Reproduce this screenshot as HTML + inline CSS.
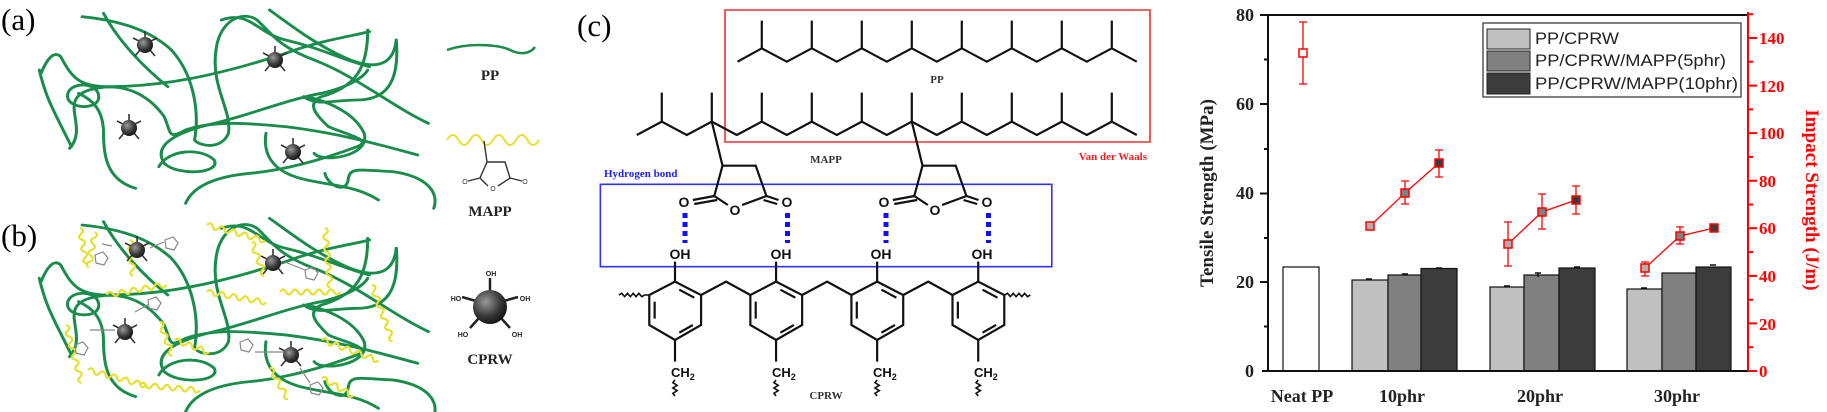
<!DOCTYPE html>
<html><head><meta charset="utf-8"><style>
html,body{margin:0;padding:0;background:#fff;}
svg{display:block;}
.ser{font-family:"Liberation Serif",serif;font-weight:bold;}
.san{font-family:"Liberation Sans",sans-serif;}
</style></head><body>
<svg width="1827" height="412" viewBox="0 0 1827 412" xmlns="http://www.w3.org/2000/svg">
<defs>
<radialGradient id="sph" cx="0.38" cy="0.35" r="0.7">
<stop offset="0" stop-color="#9a9a9a"/><stop offset="0.6" stop-color="#3a3a3a"/><stop offset="1" stop-color="#111"/>
</radialGradient>
<g id="part">
<g stroke="#333" stroke-width="1.6">
<line x1="0" y1="-7" x2="0" y2="-14"/><line x1="6" y1="-4" x2="12" y2="-7"/><line x1="-6" y1="-4" x2="-12" y2="-7"/>
<line x1="5" y1="5" x2="10" y2="11"/><line x1="-5" y1="5" x2="-10" y2="11"/></g>
<circle r="8" fill="url(#sph)"/>
</g>
<g id="gr">
<path d="M230,50 C330,60 420,90 480,150 C540,220 560,330 545,420 C560,440 620,450 640,400 C650,330 590,260 605,150 C615,60 680,30 720,60 C760,100 780,140 880,180 C1000,230 1100,320 1200,370"/>
<path d="M115,220 C130,180 150,150 170,170 C200,230 220,260 300,260 C450,260 600,230 800,160 C900,120 980,110 1035,95"/>
<path d="M190,295 C180,250 260,240 275,280 C290,330 200,330 190,295"/>
<path d="M195,445 C250,380 160,300 250,270 C350,240 420,290 460,350 C480,400 470,420 520,390 C600,360 700,370 800,380 C950,400 1050,430 1170,465"/>
<path d="M380,565 C300,540 290,470 290,400 C290,330 260,300 220,280"/>
<path d="M445,500 C470,450 560,440 600,480 C620,520 500,530 460,490 C430,440 480,400 600,370 C700,345 800,300 900,280 C980,260 1020,230 1030,210"/>
<path d="M520,610 C540,560 600,530 700,520 C800,510 900,480 1000,440 C1050,420 960,400 920,380 C880,340 860,310 900,290 C1000,260 1030,200 1030,90"/>
<path d="M755,30 C820,80 880,130 960,170 C1020,200 1100,220 1110,120"/>
<path d="M910,520 C920,560 970,580 975,540 C980,500 1000,510 1100,515 C1200,530 1230,580 1215,625"/>
<path d="M745,400 C735,470 770,520 860,540 C950,560 1000,560 1060,600"/>
<path d="M1110,120 C1120,250 1080,300 1000,300 C930,300 890,320 850,290"/>
<path d="M290,40 C330,120 400,200 470,260"/>
<path d="M620,60 C700,30 720,100 800,120 C900,145 960,180 1035,200"/>
<path d="M860,290 C900,300 990,330 1020,400 C1040,470 900,490 880,460"/>
<path d="M110,210 C130,300 150,330 200,440"/>
</g>
<path id="w60" d="M0,0 q3,-5 6,0 t6,0 t6,0 t6,0 t6,0 t6,0 t6,0 t6,0 t6,0 t6,0"/>
<path id="w36" d="M0,0 q3,-5 6,0 t6,0 t6,0 t6,0 t6,0 t6,0"/>
<g id="phen" fill="none" stroke="#111" stroke-width="2.2">
<path d="M322,845 L395,885 L395,975 L322,1020 L250,975 L250,885 Z" vector-effect="non-scaling-stroke"/>
<path d="M334,869 L376,893 M265,905 L265,956 M372,975 L334,998 M322,845 V785 M322,1020 V1085" vector-effect="non-scaling-stroke"/>
<path d="M322,1140 l-6,8 l12,8 l-12,8 l12,8 l-12,8 l6,8" vector-effect="non-scaling-stroke" stroke-width="1.6"/>
</g>
<g id="anh" fill="none" stroke="#111" stroke-width="2.2">
<path d="M425,365 L455,497 L548,497 L578,588 M455,497 L432,588 M432,588 L470,615 M510,615 L578,588 M432,588 L372,600 M440,600 L376,612 M578,588 L612,600 M570,600 L608,612" vector-effect="non-scaling-stroke"/>
</g>
</defs>

<!-- Panel a/b -->
<text x="1" y="30" font-family="Liberation Serif,serif" font-size="31">(a)</text>
<text x="1" y="246" font-family="Liberation Serif,serif" font-size="31">(b)</text>
<g transform="scale(0.357,0.3333)" fill="none" stroke="#1a8c4c" stroke-width="8.5" stroke-linecap="round">
<use href="#gr"/>
</g>
<g transform="scale(0.357,0.3333) translate(0,625)" fill="none" stroke="#1a8c4c" stroke-width="8.5" stroke-linecap="round">
<use href="#gr"/>
</g>
<use href="#part" x="145" y="45"/><use href="#part" x="275" y="60"/><use href="#part" x="129" y="128"/><use href="#part" x="293" y="152"/>
<!-- yellow -->
<g fill="none" stroke="#e8e030" stroke-width="2.2">
<use href="#w36" transform="translate(80,228) rotate(80)"/>
<use href="#w60" transform="translate(66,325) rotate(75)"/>
<use href="#w60" transform="translate(88,370) rotate(15)"/>
<use href="#w60" transform="translate(140,385) rotate(5)"/>
<use href="#w36" transform="translate(130,240) rotate(85)"/>
<use href="#w60" transform="translate(107,295) rotate(-10)"/>
<use href="#w36" transform="translate(160,322) rotate(70)"/>
<use href="#w36" transform="translate(175,340) rotate(20)"/>
<use href="#w60" transform="translate(207,225) rotate(15)"/>
<use href="#w60" transform="translate(207,292) rotate(10)"/>
<use href="#w36" transform="translate(252,242) rotate(70)"/>
<use href="#w60" transform="translate(325,228) rotate(85)"/>
<use href="#w60" transform="translate(280,292) rotate(0)"/>
<use href="#w60" transform="translate(372,285) rotate(70)"/>
<use href="#w60" transform="translate(322,340) rotate(20)"/>
<use href="#w36" transform="translate(270,368) rotate(60)"/>
<use href="#w36" transform="translate(322,378) rotate(30)"/>
<use href="#w36" transform="translate(95,232) rotate(100)"/>
</g>
<g fill="none" stroke="#888" stroke-width="1.2">
<path d="M95,255 l8,-3 l5,6 l-4,7 l-8,-2 z M102,244 l10,2"/>
<path d="M165,240 l8,-3 l5,6 l-4,7 l-8,-2 z M150,248 l14,-6"/>
<path d="M75,345 l8,-3 l5,6 l-4,7 l-8,-2 z M90,330 l25,0"/>
<path d="M148,300 l8,-3 l5,6 l-4,7 l-8,-2 z M135,312 l14,-8"/>
<path d="M305,270 l8,-3 l5,6 l-4,7 l-8,-2 z M285,262 l20,8"/>
<path d="M240,342 l8,-3 l5,6 l-4,7 l-8,-2 z M255,352 l30,0"/>
<path d="M310,385 l8,-3 l5,6 l-4,7 l-8,-2 z M300,368 l10,15"/>
</g>
<use href="#part" x="137" y="250"/><use href="#part" x="273" y="263"/><use href="#part" x="125" y="332"/><use href="#part" x="291" y="355"/>
<!-- legend a/b -->
<path d="M447,50 C470,42 500,45 510,50 S530,54 535,47" fill="none" stroke="#1a8c4c" stroke-width="2.5"/>
<text x="490" y="80" text-anchor="middle" class="ser" font-size="15" fill="#222">PP</text>
<path d="M447,140 q6,-10 11.5,0 t11.5,0 t11.5,0 t11.5,0 t11.5,0 t11.5,0 t11.5,0 t11.5,0" fill="none" stroke="#e8e030" stroke-width="2"/>
<g fill="none" stroke="#333" stroke-width="1.4">
<path d="M484,141 L487,162 L505,162 L510,178 M487,162 L480,178 L488,186 M498,186 L510,178 M480,178 L468,181 M510,178 L522,181"/>
</g>
<text x="465" y="184" font-size="7" class="san" fill="#333" text-anchor="middle">O</text>
<text x="525" y="184" font-size="7" class="san" fill="#333" text-anchor="middle">O</text>
<text x="493" y="191" font-size="7" class="san" fill="#333" text-anchor="middle">O</text>
<text x="490" y="216" text-anchor="middle" class="ser" font-size="15" fill="#222">MAPP</text>
<g stroke="#222" stroke-width="2.5">
<line x1="490" y1="292" x2="490" y2="278"/><line x1="476" y1="301" x2="462" y2="297"/><line x1="504" y1="301" x2="518" y2="297"/>
<line x1="479" y1="318" x2="470" y2="328"/><line x1="501" y1="318" x2="510" y2="328"/></g>
<circle cx="490" cy="307" r="17" fill="url(#sph)"/>
<g class="san" font-size="7" font-weight="bold" fill="#222" text-anchor="middle">
<text x="491" y="276">OH</text><text x="456" y="301">HO</text><text x="525" y="301">OH</text><text x="463" y="337">HO</text><text x="517" y="337">OH</text></g>
<text x="490" y="364" text-anchor="middle" class="ser" font-size="15" fill="#222">CPRW</text>

<!-- Panel c -->
<text x="577" y="36" font-family="Liberation Serif,serif" font-size="31">(c)</text>
<g transform="translate(560,0) scale(0.357143,0.33333)">
<rect x="462" y="30" width="1190" height="396" fill="none" stroke="#f03030" stroke-width="1.6" vector-effect="non-scaling-stroke"/>
<rect x="113" y="553" width="1264" height="247" fill="none" stroke="#3030ff" stroke-width="1.6" vector-effect="non-scaling-stroke"/>
<g fill="none" stroke="#111" stroke-width="2.2" stroke-linejoin="miter">
<path vector-effect="non-scaling-stroke" d="M497,185 L565,145 635,185 705,145 775,185 845,145 915,185 985,145 1055,185 1125,145 1195,185 1265,145 1335,185 1405,145 1475,185 1545,145 1615,185 M565,145V62 M705,145V62 M845,145V62 M985,145V62 M1125,145V62 M1265,145V62 M1405,145V62 M1545,145V62"/>
<path vector-effect="non-scaling-stroke" d="M215,405 L285,365 355,405 425,365 495,405 565,365 635,405 705,365 775,405 845,365 915,405 985,365 1055,405 1125,365 1195,405 1265,365 1335,405 1405,365 1475,405 1545,365 1615,405 M285,365V278 M425,365V278 M565,365V278 M705,365V278 M845,365V278 M985,365V278 M1125,365V278 M1265,365V278 M1405,365V278 M1545,365V278"/>
<path vector-effect="non-scaling-stroke" d="M395,885 L465,845 L533,885 M678,885 L748,845 L816,885 M961,885 L1031,845 L1099,885"/>
<path vector-effect="non-scaling-stroke" stroke-width="1.6" d="M165,885 l8,-5 l8,10 l8,-10 l8,10 l8,-10 l8,10 l8,-10 l8,10 l8,-5 l13,0 M1245,885 l8,-5 l8,10 l8,-10 l8,10 l8,-10 l8,10 l8,-10 l8,10 l8,-5"/>
</g>
<use href="#anh"/><use href="#anh" x="560"/>
<use href="#phen"/><use href="#phen" x="283"/><use href="#phen" x="566"/><use href="#phen" x="849"/>
</g>
<g stroke="#1010ff" stroke-width="5" stroke-dasharray="5,4">
<line x1="685" y1="213" x2="685" y2="243"/><line x1="787.5" y1="213" x2="787.5" y2="243"/>
<line x1="886" y1="213" x2="886" y2="243"/><line x1="988.5" y1="213" x2="988.5" y2="243"/>
</g>
<g class="san" font-weight="bold" font-size="14" fill="#111" text-anchor="middle">
<text x="684" y="207">O</text><text x="735" y="215">O</text><text x="787" y="207">O</text>
<text x="884" y="207">O</text><text x="935" y="215">O</text><text x="987" y="207">O</text>
<text x="680" y="259">OH</text><text x="781" y="259">OH</text><text x="881" y="259">OH</text><text x="982" y="259">OH</text>
</g>
<g class="san" font-weight="bold" font-size="13" fill="#111">
<text x="671" y="377">CH<tspan font-size="9" dy="3">2</tspan></text>
<text x="772" y="377">CH<tspan font-size="9" dy="3">2</tspan></text>
<text x="873" y="377">CH<tspan font-size="9" dy="3">2</tspan></text>
<text x="974" y="377">CH<tspan font-size="9" dy="3">2</tspan></text>
</g>
<text x="937" y="83" text-anchor="middle" class="ser" font-size="11" fill="#333">PP</text>
<text x="826" y="163" text-anchor="middle" class="ser" font-size="11" fill="#333">MAPP</text>
<text x="826" y="399" text-anchor="middle" class="ser" font-size="11" fill="#333">CPRW</text>
<text x="604" y="177" class="ser" font-size="11" fill="#2020ff">Hydrogen bond</text>
<text x="1147" y="160" text-anchor="end" class="ser" font-size="11" fill="#f02020">Van der Waals</text>

<!-- Chart -->
<g stroke="#111" stroke-width="1.2">
<rect x="1283" y="267" width="36" height="104" fill="#fff"/>
<rect x="1352" y="280" width="36" height="91" fill="#c0c0c0"/>
<rect x="1388" y="275" width="33" height="96" fill="#808080"/>
<rect x="1421" y="268.5" width="36" height="102.5" fill="#3c3c3c"/>
<rect x="1490" y="287" width="34" height="84" fill="#c0c0c0"/>
<rect x="1524" y="275" width="35" height="96" fill="#808080"/>
<rect x="1559" y="268" width="36" height="103" fill="#3c3c3c"/>
<rect x="1627" y="289" width="35" height="82" fill="#c0c0c0"/>
<rect x="1662" y="273" width="34" height="98" fill="#808080"/>
<rect x="1696" y="267" width="35" height="104" fill="#3c3c3c"/>
</g>
<g stroke="#111" stroke-width="1.5">
<path d="M1366,279h6 M1402,274h6 M1436,268h6 M1504,286h6 M1538,273v4 M1535,273h6 M1574,267h6 M1641,288h6 M1710,265h6"/>
</g>
<!-- axes -->
<g stroke="#111" stroke-width="2" fill="none">
<path d="M1268,15 H1748 M1262,371 H1748 M1268,15 V371"/>
<path d="M1260,15h8 M1260,104h8 M1260,193.5h8 M1260,282h8 M1264,59.5h4 M1264,149h4 M1264,238h4 M1264,326.5h4"/>
</g>
<g stroke="#f00" stroke-width="2" fill="none">
<path d="M1748,12 V371"/>
<path d="M1748,371h9 M1748,323.4h9 M1748,275.9h9 M1748,228.3h9 M1748,180.7h9 M1748,133.1h9 M1748,85.6h9 M1748,38h9 M1748,347.2h5 M1748,299.7h5 M1748,252.1h5 M1748,204.5h5 M1748,156.9h5 M1748,109.4h5 M1748,61.8h5 M1748,14.2h5"/>
</g>
<g class="ser" font-size="18" fill="#222" text-anchor="end">
<text x="1254" y="21">80</text><text x="1254" y="110">60</text><text x="1254" y="199">40</text><text x="1254" y="288">20</text><text x="1254" y="377">0</text>
</g>
<g class="ser" font-size="17" fill="#f00">
<text x="1759" y="377">0</text><text x="1759" y="330">20</text><text x="1759" y="282">40</text><text x="1759" y="234">60</text><text x="1759" y="187">80</text><text x="1759" y="139">100</text><text x="1759" y="92">120</text><text x="1759" y="44">140</text>
</g>
<text transform="translate(1213,193) rotate(-90)" text-anchor="middle" class="ser" font-size="19" fill="#222">Tensile Strength (MPa)</text>
<text transform="translate(1806,200) rotate(90)" text-anchor="middle" class="ser" font-size="19" fill="#f00">Impact Strength (J/m)</text>
<g class="ser" font-size="18" fill="#222" text-anchor="middle">
<text x="1302" y="402">Neat PP</text><text x="1402" y="402">10phr</text><text x="1540" y="402">20phr</text><text x="1677" y="402">30phr</text>
</g>
<!-- impact -->
<g stroke="#f00" stroke-width="1.3" fill="none">
<path d="M1370,226 L1405,193 L1439,163 M1508,244 L1542,212 L1576,200 M1645,268 L1680,236 L1714,228"/>
<path d="M1303,22V84 M1299,22h8 M1299,84h8 M1405,181V204 M1401,181h8 M1401,204h8 M1439,150V177 M1435,150h8 M1435,177h8 M1508,222V266 M1504,222h8 M1504,266h8 M1542,194V229 M1538,194h8 M1538,229h8 M1576,186V214 M1572,186h8 M1572,214h8 M1645,262V276 M1641,262h8 M1641,276h8 M1680,227V244 M1676,227h8 M1676,244h8"/>
</g>
<g stroke="#f00" stroke-width="1.5">
<rect x="1299" y="49" width="8" height="8" fill="#fff"/>
<rect x="1366" y="222" width="8" height="8" fill="#b0b0b0"/>
<rect x="1401" y="189" width="8" height="8" fill="#808080"/>
<rect x="1435" y="159" width="8" height="8" fill="#3c3c3c"/>
<rect x="1504" y="240" width="8" height="8" fill="#b0b0b0"/>
<rect x="1538" y="208" width="8" height="8" fill="#808080"/>
<rect x="1572" y="196" width="8" height="8" fill="#3c3c3c"/>
<rect x="1641" y="264" width="8" height="8" fill="#b0b0b0"/>
<rect x="1676" y="232" width="8" height="8" fill="#808080"/>
<rect x="1710" y="224" width="8" height="8" fill="#3c3c3c"/>
</g>
<!-- legend -->
<rect x="1483" y="23" width="258" height="74" fill="#fff" stroke="#555" stroke-width="1.5"/>
<g stroke="#222" stroke-width="1">
<rect x="1487" y="29" width="43" height="20" fill="#c0c0c0"/>
<rect x="1487" y="51" width="43" height="20" fill="#808080"/>
<rect x="1487" y="73" width="43" height="21" fill="#3c3c3c"/>
</g>
<g class="san" font-size="17" fill="#222">
<text x="1535" y="44" textLength="84" lengthAdjust="spacingAndGlyphs">PP/CPRW</text>
<text x="1535" y="66" textLength="191" lengthAdjust="spacingAndGlyphs">PP/CPRW/MAPP(5phr)</text>
<text x="1535" y="89" textLength="203" lengthAdjust="spacingAndGlyphs">PP/CPRW/MAPP(10phr)</text>
</g>
</svg>
</body></html>
